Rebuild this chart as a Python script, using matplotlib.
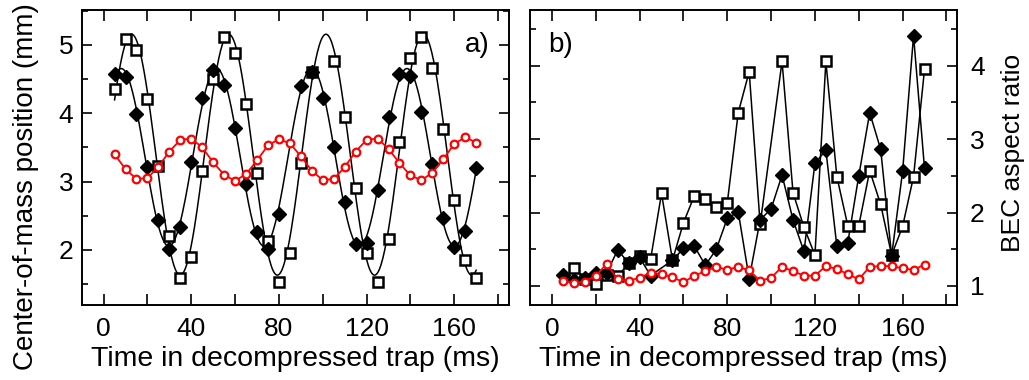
# BEC oscillations after decompression: centre-of-mass (a) and aspect ratio (b)
import numpy as np
import matplotlib
matplotlib.use("Agg")
import matplotlib.pyplot as plt
from matplotlib.ticker import MultipleLocator

plt.rcParams['font.family'] = ['Liberation Sans', 'DejaVu Sans']

# --- panel a: centre-of-mass position (mm) ---
t_all = np.arange(5, 171, 5)
t_sq_a = [5, 10, 15, 20, 25, 30, 35, 40, 45, 50, 55, 60, 65, 70, 75, 80, 85, 90, 95,
          105, 110, 115, 120, 125, 130, 135, 140, 145, 150, 155, 160, 165, 170]
sq_a = [4.36, 5.09, 4.93, 4.21, 3.23, 2.21, 1.59, 1.90, 3.15, 4.50, 5.11, 4.88, 4.13,
        3.12, 2.13, 1.53, 1.95, 3.27, 4.61, 4.77, 3.95, 2.91, 1.95, 1.53, 2.16, 3.58,
        4.81, 5.11, 4.66, 3.77, 2.73, 1.85, 1.59]
t_dm_a = [5, 10, 15, 20, 25, 30, 35, 40, 45, 50, 55, 60, 65, 70, 75, 80, 90, 95, 100,
          105, 110, 115, 120, 125, 130, 135, 140, 145, 150, 155, 160, 165, 170]
dm_a = [4.58, 4.53, 3.99, 3.22, 2.44, 2.02, 2.33, 3.28, 4.23, 4.63, 4.41, 3.79, 2.97,
        2.26, 2.02, 2.53, 4.40, 4.61, 4.22, 3.51, 2.70, 2.08, 2.10, 2.87, 3.94, 4.58,
        4.55, 4.02, 3.25, 2.47, 2.04, 2.28, 3.20]
red_a = [3.40, 3.18, 3.04, 3.05, 3.22, 3.44, 3.61, 3.63, 3.50, 3.28, 3.10, 3.01, 3.11,
         3.31, 3.53, 3.62, 3.56, 3.37, 3.16, 3.02, 3.04, 3.21, 3.44, 3.61, 3.63, 3.48,
         3.27, 3.09, 3.02, 3.13, 3.33, 3.55, 3.65, 3.57]

# --- panel b: BEC aspect ratio ---
t_sq_b = [10, 15, 20, 25, 30, 35, 40, 45, 50, 55, 60, 65, 70, 75, 80, 85, 90, 95,
          105, 110, 115, 120, 125, 130, 135, 140, 145, 150, 155, 160, 165, 170]
sq_b = [1.25, 1.10, 1.02, 1.15, 1.13, 1.31, 1.41, 1.36, 2.26, 1.35, 1.86, 2.23, 2.19,
        2.08, 2.13, 3.36, 3.92, 1.84, 4.06, 2.27, 1.80, 1.42, 4.06, 2.49, 1.82, 1.82,
        2.57, 2.11, 1.42, 1.81, 2.49, 3.95]
t_dm_b = [5, 10, 15, 20, 25, 30, 35, 40, 45, 55, 60, 65, 70, 75, 80, 85, 90, 95, 100,
          105, 110, 115, 120, 125, 130, 135, 140, 145, 150, 155, 160, 165, 170]
dm_b = [1.15, 1.08, 1.11, 1.17, 1.18, 1.49, 1.31, 1.39, 1.14, 1.35, 1.51, 1.54, 1.28,
        1.50, 1.92, 2.01, 1.10, 1.90, 2.05, 2.51, 1.90, 1.47, 2.67, 2.85, 1.54, 1.59,
        2.50, 3.36, 2.86, 1.41, 2.56, 4.41, 2.60]
red_b = [1.07, 1.04, 1.06, 1.14, 1.30, 1.09, 1.07, 1.11, 1.18, 1.16, 1.12, 1.05, 1.14,
         1.20, 1.26, 1.22, 1.26, 1.21, 1.07, 1.11, 1.26, 1.20, 1.14, 1.14, 1.27, 1.23,
         1.16, 1.09, 1.26, 1.27, 1.27, 1.24, 1.22, 1.29]


def sine_fit(t, y, periods=np.linspace(38, 52, 281)):
    # least-squares sine fit, scanning the period
    t = np.asarray(t, float)
    y = np.asarray(y, float)
    best = None
    for p in periods:
        w = 2 * np.pi / p
        A = np.column_stack([np.sin(w * t), np.cos(w * t), np.ones_like(t)])
        coef = np.linalg.lstsq(A, y, rcond=None)[0]
        err = np.sum((A @ coef - y) ** 2)
        if best is None or err < best[0]:
            best = (err, w, coef)
    _, w, c = best
    tt = np.linspace(t.min(), t.max(), 400)
    return tt, c[0] * np.sin(w * tt) + c[1] * np.cos(w * tt) + c[2]


fig = plt.figure(figsize=(10.29, 3.80), dpi=100)
ax_a = fig.add_axes([0.0794, 0.1974, 0.4153, 0.7763])
ax_b = fig.add_axes([0.5151, 0.1974, 0.4153, 0.7763])

sq_style = dict(marker='s', ms=7, mfc='white', mec='black', mew=1.8, ls='none', zorder=3)
dm_style = dict(marker='D', ms=7, mfc='black', mec='black', ls='none', zorder=4)
red_style = dict(color='red', marker='o', ms=5.5, mfc='white', mec='red', mew=1.6, lw=1.3, zorder=5)

# panel a: data with sine fits
tt, yy = sine_fit(t_sq_a, sq_a)
ax_a.plot(tt, yy, color='black', lw=1.1, zorder=2)
tt, yy = sine_fit(t_dm_a, dm_a)
ax_a.plot(tt, yy, color='black', lw=1.1, zorder=2)
ax_a.plot(t_sq_a, sq_a, **sq_style)
ax_a.plot(t_dm_a, dm_a, **dm_style)
ax_a.plot(t_all, red_a, **red_style)

# panel b: data joined by straight lines
ax_b.plot(t_sq_b, sq_b, color='black', lw=1.1, zorder=2)
ax_b.plot(t_dm_b, dm_b, color='black', lw=1.1, zorder=2)
ax_b.plot(t_sq_b, sq_b, **sq_style)
ax_b.plot(t_dm_b, dm_b, **dm_style)
ax_b.plot(t_all, red_b, **red_style)

ax_a.set_ylim(1.195, 5.51)
ax_b.set_ylim(0.74, 4.76)

for ax in (ax_a, ax_b):
    ax.set_xlim(-10, 185)
    ax.xaxis.set_major_locator(MultipleLocator(40))
    ax.xaxis.set_minor_locator(MultipleLocator(20))
    ax.yaxis.set_major_locator(MultipleLocator(1))
    ax.yaxis.set_minor_locator(MultipleLocator(0.5))
    ax.tick_params(which='both', direction='in', top=True, bottom=True, left=True, right=True,
                   width=1.2, labelsize=19)
    ax.tick_params(axis='x', which='both', length=8, pad=9)
    ax.tick_params(axis='y', which='major', length=7, pad=6)
    ax.tick_params(axis='y', which='minor', length=4.5)
    for s in ax.spines.values():
        s.set_linewidth(1.4)
    ax.set_xlabel("Time in decompressed trap (ms)", fontsize=20.5, labelpad=3)

ax_b.tick_params(axis='y', which='both', labelleft=False, labelright=True)
ax_b.tick_params(axis='y', which='major', pad=9)

# axis titles placed in figure pixels
fig.text(26 / 1029, 1 - 3 / 380, "Center-of-mass position (mm)", fontsize=20,
         rotation=90, ha='center', va='top')
fig.text(1013 / 1029, 1 - 153 / 380, "BEC aspect ratio", fontsize=19,
         rotation=90, ha='center', va='center')

ax_a.text(0.955, 0.881, "a)", transform=ax_a.transAxes, fontsize=20, ha='right', va='center')
ax_b.text(0.042, 0.881, "b)", transform=ax_b.transAxes, fontsize=20, ha='left', va='center')

fig.savefig("out.png", dpi=100)
